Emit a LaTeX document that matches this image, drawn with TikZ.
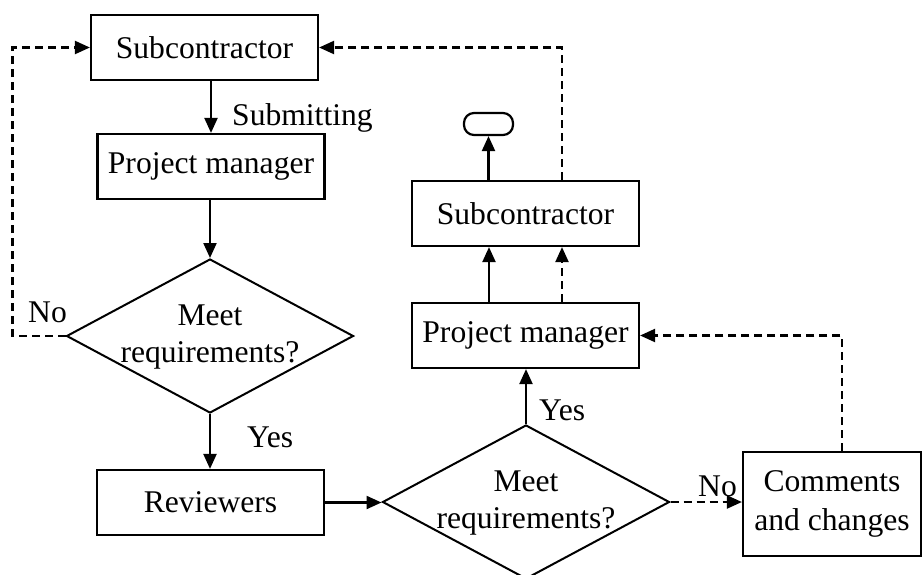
\documentclass[tikz,border=0pt]{standalone}
\usepackage{fontspec}
\setmainfont{Liberation Serif}
\usetikzlibrary{shapes.geometric,arrows.meta}
\begin{document}
\begin{tikzpicture}[x=1pt,y=-1pt,
  every node/.style={font=\fontsize{31.6}{37}\selectfont},
  box/.style={draw,line width=2.2pt,minimum width=227pt,minimum height=65pt,inner sep=0pt},
  dia/.style={draw,shape=diamond,line width=2pt,minimum width=287pt,minimum height=154pt,inner sep=0pt},
  arr/.style={line width=2.2pt,-{Triangle[length=15pt,width=13pt]}},
  darr/.style={arr,dash pattern=on 8pt off 5pt},
  lbl/.style={inner sep=0pt,anchor=base west}]
\useasboundingbox (0,0) rectangle (924,574);
\node[box] (sub1) at (204.5,47.5) {Subcontractor};
\node[box] (pm1) at (211,166.5) {Project manager};
\node[dia] (d1) at (210,336) {};
\node[align=center,inner sep=0pt] (d1t) at (210,337) {Meet\\requirements?};
\node[box] (rev) at (210.5,502.5) {Reviewers};
\node[dia] (d2) at (526,502) {};
\node[align=center,inner sep=0pt] (d2t) at (526,503) {Meet\\requirements?};
\node[box] (pm2) at (525.5,335.5) {Project manager};
\node[box] (sub2) at (525.5,213.5) {Subcontractor};
\node[draw,line width=2.2pt,rounded corners=10pt,minimum width=49pt,minimum height=22pt,inner sep=0pt] (term) at (488.5,124) {};
\node[box,minimum width=178pt,minimum height=104pt,align=center,font=\fontsize{31.6}{39}\selectfont] (cc) at (832,504) {Comments\\and changes};

\draw[arr] (sub1.south -| pm1.north) -- (pm1.north);
\node[lbl] (subm) at (232,125) {Submitting};
\draw[arr] (pm1.south -| d1.north) -- (d1.north);
\draw[darr] (d1.west) -- ++(-53,0) |- (sub1.west);
\node[lbl] (no1) at (28,322) {No};
\draw[arr] (d1.south) -- (rev.north -| d1.south);
\node[lbl] (yes1) at (247,447) {Yes};
\draw[arr] (rev.east) -- (rev.east -| d2.west);
\draw[arr] (d2.north) -- (d2.north |- pm2.south);
\node[lbl] (yes2) at (539,420) {Yes};
\draw[darr] (d2.east) -- (d2.east -| cc.west);
\node[lbl] (no2) at (698,496) {No};
\draw[darr] ([xshift=10pt]cc.north) |- (pm2.east);
\draw[arr] ([xshift=-36.5pt]pm2.north) -- ([xshift=-36.5pt]sub2.south);
\draw[darr] ([xshift=36.5pt]pm2.north) -- ([xshift=36.5pt]sub2.south);
\draw[arr] (sub2.north -| term.south) -- (term.south);
\draw[darr] ([xshift=36.5pt]sub2.north) |- (sub1.east);
\end{tikzpicture}
\end{document}
